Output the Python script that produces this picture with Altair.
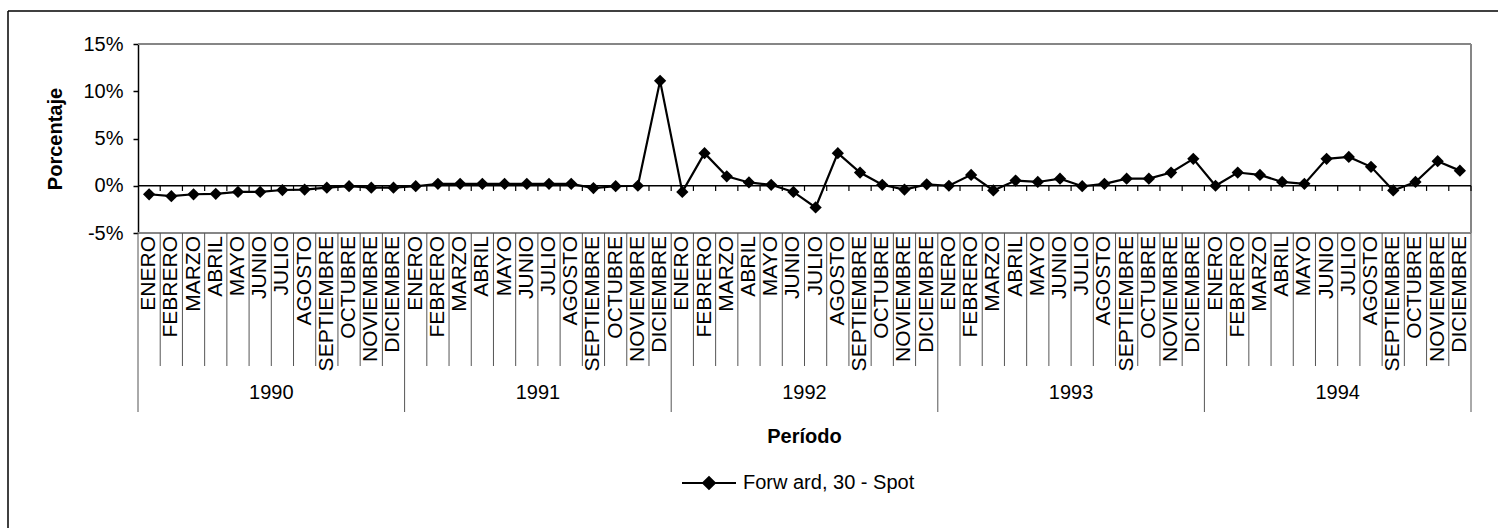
import altair as alt
import pandas as pd

# Serie mensual: diferencia porcentual Forward a 30 días menos Spot
meses = ["ENERO", "FEBRERO", "MARZO", "ABRIL", "MAYO", "JUNIO", "JULIO",
         "AGOSTO", "SEPTIEMBRE", "OCTUBRE", "NOVIEMBRE", "DICIEMBRE"]
anios = ["1990", "1991", "1992", "1993", "1994"]

v1990 = [-0.9, -1.1, -0.9, -0.85, -0.65, -0.65, -0.45, -0.4, -0.2, -0.05, -0.2, -0.2]
v1991 = [-0.05, 0.2, 0.2, 0.2, 0.2, 0.2, 0.2, 0.2, -0.25, -0.05, 0.0, 11.1]
v1992 = [-0.65, 3.45, 1.0, 0.35, 0.1, -0.65, -2.3, 3.45, 1.4, 0.1, -0.4, 0.15]
v1993 = [0.0, 1.15, -0.5, 0.55, 0.4, 0.75, -0.05, 0.2, 0.75, 0.75, 1.4, 2.85]
v1994 = [0.0, 1.4, 1.15, 0.4, 0.2, 2.85, 3.05, 2.0, -0.5, 0.4, 2.6, 1.6]

serie_nombre = "Forw ard, 30 - Spot"
ticks_y = [-5, 0, 5, 10, 15]

FUENTE = "Liberation Sans"
GRIS = "#868686"

valores = v1990 + v1991 + v1992 + v1993 + v1994
n = len(valores)

df = pd.DataFrame({
    "pos": [i + 0.5 for i in range(n)],
    "valor": valores,
    "mes": [meses[i % 12] for i in range(n)],
    "serie": [serie_nombre] * n,
})

xscale = alt.Scale(domain=[0, n], nice=False, zero=False)
yscale = alt.Scale(domain=[ticks_y[0], ticks_y[-1]], nice=False, zero=False)

yaxis = alt.Axis(
    values=ticks_y, labelExpr="datum.value + '%'", title="Porcentaje",
    grid=False, tickSize=5, tickColor="black", tickWidth=1.5,
    domainColor="black", domainWidth=1.5,
    labelFont=FUENTE, labelFontSize=20, labelColor="black", labelPadding=10,
    titleFont=FUENTE, titleFontSize=20, titleFontWeight="bold", titleColor="black",
    titleX=-83, titleY=94.5, titleAngle=270, titleAlign="center", titleBaseline="middle",
)

def X(campo):
    return alt.X(campo, type="quantitative", scale=xscale, axis=None)

def Y(campo):
    return alt.Y(campo, type="quantitative", scale=yscale, axis=yaxis)

# Borde gris del área de trazado (arriba, derecha, abajo)
bordes = pd.DataFrame({
    "x": [0, n, 0], "x2": [n, n, n],
    "y": [ticks_y[-1], ticks_y[0], ticks_y[0]], "y2": [ticks_y[-1], ticks_y[-1], ticks_y[0]],
})
capa_bordes = alt.Chart(bordes).mark_rule(color=GRIS, strokeWidth=2).encode(
    x=X("x"), x2="x2", y=Y("y"), y2="y2")

# Eje horizontal en 0% con marcas entre meses
cero = pd.DataFrame({"x": [0], "x2": [n], "y": [0], "y2": [0]})
capa_cero = alt.Chart(cero).mark_rule(color="black", strokeWidth=1.5).encode(
    x=X("x"), x2="x2", y=Y("y"), y2="y2")

marcas = pd.DataFrame({"x": list(range(1, n + 1)), "y": [0] * n, "y2": [-0.55] * n})
capa_marcas = alt.Chart(marcas).mark_rule(color="black", strokeWidth=1.2).encode(
    x=X("x"), y=Y("y"), y2="y2")

# Separadores de la categoría (meses y años)
sep_mes = pd.DataFrame({"x": [k for k in range(1, n) if k % 12 != 0]})
capa_sep_mes = alt.Chart(sep_mes).mark_rule(color="#555555", strokeWidth=1).encode(
    x=X("x"), y=alt.value(189), y2=alt.value(322))

sep_anio = pd.DataFrame({"x": list(range(0, n + 1, 12))})
capa_sep_anio = alt.Chart(sep_anio).mark_rule(color="#555555", strokeWidth=1).encode(
    x=X("x"), y=alt.value(189), y2=alt.value(368))

capa_meses = alt.Chart(df).mark_text(
    angle=270, align="right", baseline="middle", font=FUENTE, fontSize=21, color="black"
).encode(x=X("pos"), y=alt.value(192), text="mes:N")

etiquetas_anio = pd.DataFrame({"x": [12 * j + 6 for j in range(len(anios))], "anio": anios})
capa_anios = alt.Chart(etiquetas_anio).mark_text(
    align="center", baseline="middle", font=FUENTE, fontSize=20, color="black"
).encode(x=X("x"), y=alt.value(349), text="anio:N")

titulo_x = pd.DataFrame({"x": [n / 2], "t": ["Período"]})
capa_titulo_x = alt.Chart(titulo_x).mark_text(
    align="center", baseline="middle", font=FUENTE, fontSize=20, fontWeight="bold", color="black"
).encode(x=X("x"), y=alt.value(393), text="t:N")

# Marco exterior del gráfico (lados izquierdo y superior)
marco = alt.Chart(pd.DataFrame({"m": [0]})).mark_rule(color="black", strokeWidth=1.5).encode(
    x=alt.value(-130), y=alt.value(-33), y2=alt.value(500))
marco_sup = alt.Chart(pd.DataFrame({"m": [0]})).mark_rule(color="black", strokeWidth=1.5).encode(
    x=alt.value(-130), x2=alt.value(1360), y=alt.value(-33))

leyenda = alt.Legend(
    title=None, orient="none", legendX=543, legendY=411, padding=0,
    symbolType="M-1,0L1,0M-0.22,0L0,-0.22L0.22,0L0,0.22Z", symbolSize=2916,
    symbolStrokeWidth=2, symbolStrokeColor="black", symbolFillColor="black",
    labelFont=FUENTE, labelFontSize=20, labelColor="black", labelOffset=6, labelLimit=0,
)
color = alt.Color("serie:N", scale=alt.Scale(range=["black"]), legend=leyenda)

linea = alt.Chart(df).mark_line(color="black", strokeWidth=2.2).encode(
    x=X("pos"), y=Y("valor"), color=color)
puntos = alt.Chart(df).mark_point(shape="diamond", filled=True, size=150, opacity=1).encode(
    x=X("pos"), y=Y("valor"), color=color)

chart = alt.layer(
    marco, marco_sup, capa_bordes, capa_sep_mes, capa_sep_anio, capa_cero, capa_marcas,
    capa_meses, capa_anios, capa_titulo_x, linea, puntos,
).properties(
    width=1333, height=189,
    autosize=alt.AutoSizeParams(type="none"),
    padding={"left": 138, "top": 44, "right": 27, "bottom": 295},
    background="white",
).configure_view(strokeWidth=0)

chart.save("out.html", embed_options={"renderer": "svg", "actions": False})
